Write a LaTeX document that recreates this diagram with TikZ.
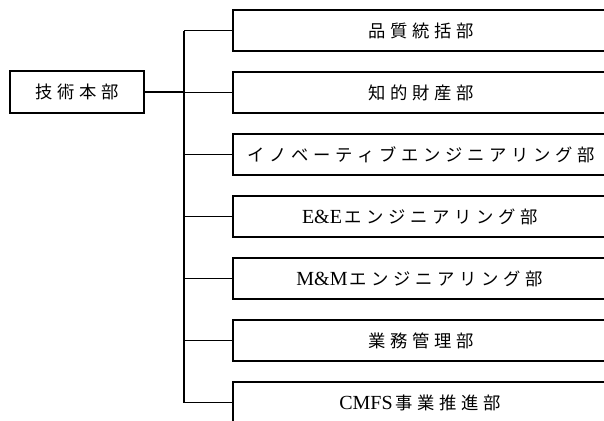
\documentclass[tikz,border=0pt]{standalone}
\usepackage{fontspec}
\setmainfont{Liberation Serif}
\newfontfamily\jfont{Noto Sans CJK JP}
\def\jloop#1{\ifx#1\relax\else\makebox[16.5pt]{#1}\expandafter\jloop\fi}
\newcommand\J[1]{{\jfont\fontsize{13pt}{14pt}\selectfont\jloop#1\relax}}
\tikzset{
  unitbox/.style={draw=black, line width=1.15pt, minimum width=282pt, minimum height=30.75pt, inner sep=0pt, font=\fontsize{15pt}{16pt}\selectfont},
  rootbox/.style={draw=black, line width=1.15pt, minimum width=100.5pt, minimum height=31.5pt, inner sep=0pt},
  link/.style={draw=black, line width=1.15pt}
}
\begin{document}
\begin{tikzpicture}[x=0.75pt,y=-0.75pt]
\useasboundingbox (0,0) rectangle (604,421);
\clip (0,0) rectangle (604,421);
\node[rootbox] (root) at (77,92) {\J{技術本部}};
\node[unitbox] (b1) at (421,30.5) {\J{品質統括部}};
\node[unitbox] (b2) at (421,92.5) {\J{知的財産部}};
\node[unitbox] (b3) at (421,154.5) {\J{イノベーティブエンジニアリング部}};
\node[unitbox] (b4) at (421,216.5) {E\&E\J{エンジニアリング部}};
\node[unitbox] (b5) at (421,278.5) {M\&M\J{エンジニアリング部}};
\node[unitbox] (b6) at (421,340.5) {\J{業務管理部}};
\node[unitbox] (b7) at (421,402.5) {CMFS\J{事業推進部}};
\coordinate (bus) at (184,0);
\draw[link] (b1.west -| bus) -- (b7.west -| bus);
\draw[link] (root.east) -- (root.east -| bus);
\foreach \b in {b1,b2,b3,b4,b5,b6,b7}
  \draw[link] (\b.west) -- (\b.west -| bus);
\end{tikzpicture}
\end{document}
